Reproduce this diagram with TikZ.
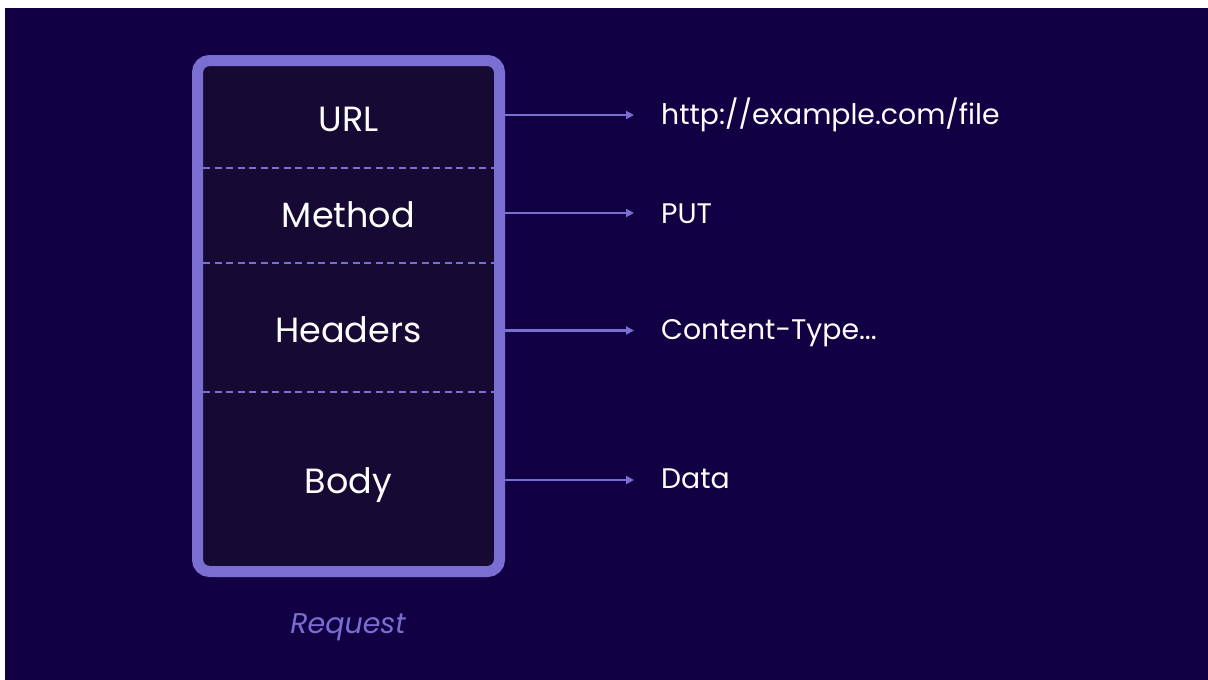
\documentclass[tikz,border=0pt]{standalone}
\usepackage{fontspec}
\setmainfont{Poppins}
\usetikzlibrary{arrows.meta}
\definecolor{bgc}{RGB}{18,0,68}
\definecolor{boxfill}{RGB}{22,10,52}
\definecolor{lav}{RGB}{122,110,210}
\tikzset{
  fieldlbl/.style={anchor=base, text=white, font=\fontsize{35}{38}\selectfont, inner sep=0pt},
  vallbl/.style={anchor=base west, text=white, font=\fontsize{28.3}{31}\selectfont, inner sep=0pt},
  sep/.style={draw=lav, line width=2pt, dash pattern=on 7pt off 4.5pt},
  conn/.style={draw=lav, line width=2.2pt, -{Triangle[length=8pt,width=8pt]}},
}
\begin{document}
\begin{tikzpicture}[x=1pt,y=-1pt]
\useasboundingbox (0,0) rectangle (1208,680);
\fill[white] (0,0) rectangle (1208,680);
\fill[bgc] (5,8) rectangle (1220,692);
% box
\draw[draw=lav, fill=boxfill, line width=11pt, rounded corners=12pt] (197.5,60.5) rectangle (499.5,571.5);
% separators
\draw[sep] (203,168) -- (494,168);
\draw[sep] (203,262.5) -- (494,262.5);
\draw[sep] (203,392) -- (494,392);
% labels
\node[fieldlbl] (url) at (348.5,131) {URL};
\node[fieldlbl] (method) at (348.5,227) {Method};
\node[fieldlbl] (headers) at (348.5,342) {Headers};
\node[fieldlbl] (body) at (348.5,493) {Body};
% values
\node[vallbl] (vurl) at (661,124) {http://example.com/file};
\node[vallbl] (vmethod) at (661,223) {PUT};
\node[vallbl] (vheaders) at (661,339) {Content-Type...};
\node[vallbl] (vbody) at (661,488) {Data};
% connectors
\coordinate (a1) at (505,115);
\coordinate (b1) at (634,115);
\coordinate (a2) at (505,213);
\coordinate (b2) at (634,213);
\coordinate (a3) at (505,330.5);
\coordinate (b3) at (634,330.5);
\coordinate (a4) at (505,480);
\coordinate (b4) at (634,480);
\draw[conn] (a1) -- (b1);
\draw[conn] (a2) -- (b2);
\draw[conn] (a3) -- (b3);
\draw[conn] (a4) -- (b4);
% caption
\node[anchor=base, text=lav, font=\fontsize{28.5}{31}\selectfont\itshape, inner sep=0pt] (req) at (348,633) {Request};
\end{tikzpicture}
\end{document}
